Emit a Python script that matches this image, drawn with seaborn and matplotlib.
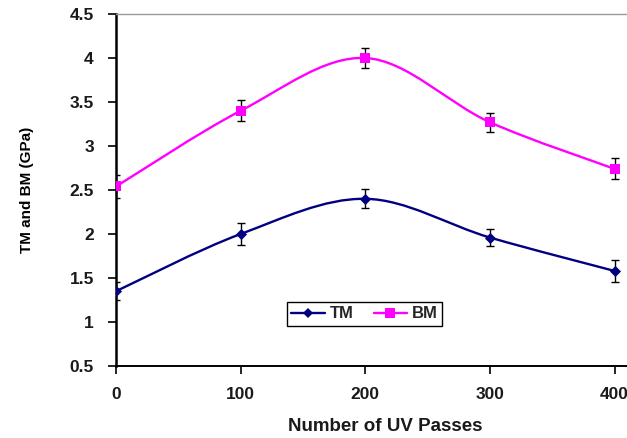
import numpy as np
import pandas as pd
import matplotlib
matplotlib.use("Agg")
import matplotlib.pyplot as plt
from matplotlib.path import Path
from matplotlib.patches import PathPatch
from matplotlib.lines import Line2D
import seaborn as sns

# ---- data ----
uv_passes = [0, 100, 200, 300, 400]
tm_values = [1.35, 2.00, 2.40, 1.96, 1.58]
bm_values = [2.54, 3.40, 4.00, 3.27, 2.74]
tm_errors = [0.10, 0.12, 0.11, 0.10, 0.12]
bm_errors = [0.13, 0.12, 0.11, 0.11, 0.12]
series_names = ["TM", "BM"]
y_ticks = [0.5, 1, 1.5, 2, 2.5, 3, 3.5, 4, 4.5]
x_ticks = [0, 100, 200, 300, 400]

sns.set_theme(style="white")
plt.rcParams["font.family"] = ["Liberation Sans", "DejaVu Sans"]

colors = {"TM": "#000080", "BM": "#FF00FF"}
markers = {"TM": "D", "BM": "s"}
msizes = {"TM": 32, "BM": 62}

df = pd.DataFrame({
    "passes": uv_passes * 2,
    "value": tm_values + bm_values,
    "series": ["TM"] * len(uv_passes) + ["BM"] * len(uv_passes),
})

fig = plt.figure(figsize=(6.27, 4.38), dpi=100)
ax = fig.add_axes([116 / 627, 1 - 366 / 438, 1 - 116 / 627, (366 - 14) / 438])


def smooth_path(xs, ys):
    pts = np.column_stack([xs, ys]).astype(float)
    n = len(pts)
    verts = [pts[0]]
    codes = [Path.MOVETO]
    for i in range(n - 1):
        p0 = pts[i - 1] if i > 0 else pts[i]
        p1 = pts[i]
        p2 = pts[i + 1]
        p3 = pts[i + 2] if i + 2 < n else pts[i + 1]
        c1 = p1 + (p2 - p0) / 6.0
        c2 = p2 - (p3 - p1) / 6.0
        verts += [c1, c2, p2]
        codes += [Path.CURVE4] * 3
    return Path(verts, codes)


for name, vals, errs in [("TM", tm_values, tm_errors), ("BM", bm_values, bm_errors)]:
    patch = PathPatch(smooth_path(uv_passes, vals), fill=False,
                      edgecolor=colors[name], lw=1.7, zorder=2,
                      transform=ax.transData)
    ax.add_patch(patch)
    ax.errorbar(uv_passes, vals, yerr=errs, fmt="none", ecolor="black",
                elinewidth=1.0, capsize=3, capthick=1.0, zorder=3)

for name in series_names:
    sub = df[df["series"] == name]
    sns.scatterplot(data=sub, x="passes", y="value", ax=ax, color=colors[name],
                    marker=markers[name], s=msizes[name], edgecolor=colors[name],
                    linewidth=0, zorder=4, legend=False)

ax.set_xlim(0, 410)
ax.set_ylim(0.5, 4.5)
ax.set_xticks(x_ticks)
ax.set_yticks(y_ticks)
ax.set_yticklabels([f"{t:g}" for t in y_ticks])
ax.tick_params(axis="both", which="both", direction="out", length=6, width=1.2,
               color="black", labelsize=12.5, labelcolor="#1a1a1a", bottom=True, left=True)
for lab in ax.get_xticklabels() + ax.get_yticklabels():
    lab.set_fontweight("bold")
ax.tick_params(axis="x", pad=9)
ax.tick_params(axis="y", pad=10)

ax.spines["left"].set_color("black")
ax.spines["left"].set_linewidth(1.8)
ax.spines["bottom"].set_color("black")
ax.spines["bottom"].set_linewidth(1.4)
ax.spines["top"].set_color("#999999")
ax.spines["top"].set_linewidth(1.0)
ax.spines["right"].set_visible(False)

ax.set_xlabel("Number of UV Passes", fontsize=13.5, fontweight="bold", color="#1a1a1a")
ax.xaxis.set_label_coords(0.526, -0.148)
ax.set_ylabel("TM and BM (GPa)", fontsize=11, fontweight="bold", color="black")
ax.yaxis.set_label_coords(-0.160, 0.5)

handles = [Line2D([0], [0], color=colors[n], lw=1.7, marker=markers[n],
                  markersize=5 if n == "TM" else 6.5, markeredgewidth=0,
                  markerfacecolor=colors[n]) for n in series_names]
leg = ax.legend(handles, series_names, loc="lower left",
                bbox_to_anchor=(0.335, 0.115), ncol=2, frameon=True,
                fancybox=False, edgecolor="black", framealpha=1,
                prop={"weight": "bold", "size": 12}, handlelength=2.0,
                handletextpad=0.3, columnspacing=1.2, borderpad=0.25,
                borderaxespad=0)
leg.get_frame().set_linewidth(1.0)

fig.savefig("out.png", dpi=100)
